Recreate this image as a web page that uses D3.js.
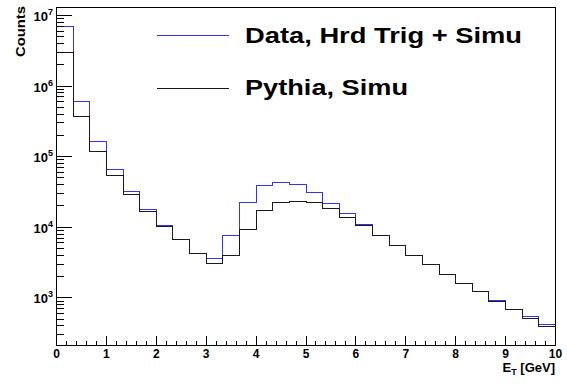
<!DOCTYPE html>
<html><head><meta charset="utf-8">
<script src="https://cdn.jsdelivr.net/npm/d3@7"></script>
<style>html,body{margin:0;padding:0;background:#fff;}svg{display:block;}</style>
</head><body>
<svg id="c" width="567" height="384"></svg>
<script>
// bin edges: 30 bins of width 1/3 GeV from 0 to 10
const binCount = 30;
const xMin = 0, xMax = 10;
const dataHrdTrig = [6.96e6, 6.1e5, 1.65e5, 6.64e4, 3.24e4, 1.8e4, 1.07e4, 6.64e3, 4.28e3, 3.57e3,
  7.7e3, 2.22e4, 3.9e4, 4.34e4, 4.03e4, 3.07e4, 2.19e4, 1.55e4, 1.08e4, 7.55e3,
  5.46e3, 3.97e3, 2.93e3, 2.14e3, 1.6e3, 1.22e3, 925, 676, 538, 415];
const pythiaSimu = [2.95e6, 3.73e5, 1.17e5, 5.4e4, 2.9e4, 1.67e4, 1.01e4, 6.64e3, 4.25e3, 3.06e3,
  3.94e3, 9.4e3, 1.73e4, 2.22e4, 2.33e4, 2.22e4, 1.82e4, 1.39e4, 1.05e4, 7.55e3,
  5.46e3, 3.97e3, 2.93e3, 2.14e3, 1.6e3, 1.22e3, 887, 676, 505, 392];
const seriesNames = ["Data, Hrd Trig + Simu", "Pythia, Simu"];
const seriesColors = ["#3232f2", "#1a1a1a"];
const xTickValues = [0,1,2,3,4,5,6,7,8,9,10];
const yTickExponents = [3,4,5,6,7];
const xTitle = "E";
const xTitleSub = "T";
const xTitleRest = " [GeV]";
const yTitle = "Counts";

const svg = d3.select("#c");
const L = 56.5, R = 555.5, T = 7.5, B = 345.5;
const x = d3.scaleLinear().domain([xMin, xMax]).range([L, R]);
const y = d3.scaleLog().domain([211, 1.294e7]).range([B, T]);
const font = "'Liberation Sans', Arial, Helvetica, sans-serif";

const binW = (xMax - xMin) / binCount;
function stepPoints(vals) {
  const pts = vals.map((v, i) => [xMin + i * binW, v]);
  pts.push([xMax, vals[vals.length - 1]]);
  return pts;
}
const line = d3.line().x(d => Math.round(x(d[0]) - 0.5) + 0.5).y(d => Math.round(y(d[1]) - 0.5) + 0.5).curve(d3.curveStepAfter);

[dataHrdTrig, pythiaSimu].forEach((vals, k) => {
  svg.append("path").attr("d", line(stepPoints(vals)))
    .attr("fill", "none").attr("stroke", seriesColors[k]).attr("stroke-width", 1)
    .attr("shape-rendering", "crispEdges");
});

// frame
svg.append("rect").attr("x", L).attr("y", T).attr("width", R - L).attr("height", B - T)
  .attr("fill", "none").attr("stroke", "#000").attr("stroke-width", 1).attr("shape-rendering", "crispEdges");

// x ticks
const gx = svg.append("g").attr("shape-rendering", "crispEdges");
const xMinor = d3.range(0, 50).map(i => i * 0.2).filter(v => Math.abs(v - Math.round(v)) > 1e-6);
xMinor.forEach(v => {
  const px = Math.round(x(v) - 0.5) + 0.5;
  gx.append("line").attr("x1", px).attr("x2", px).attr("y1", B).attr("y2", B - 5).attr("stroke", "#000");
});
xTickValues.forEach(v => {
  const px = Math.round(x(v) - 0.5) + 0.5;
  gx.append("line").attr("x1", px).attr("x2", px).attr("y1", B).attr("y2", B - 10).attr("stroke", "#000");
  svg.append("text").attr("x", x(v)).attr("y", 358).attr("text-anchor", "middle")
    .attr("font-family", font).attr("font-weight", "bold").attr("font-size", 12).text(v);
});

// y ticks
const gy = svg.append("g").attr("shape-rendering", "crispEdges");
const [ylo, yhi] = y.domain();
for (let e = 2; e <= 7; e++) {
  for (let k = 1; k <= 9; k++) {
    const v = k * Math.pow(10, e);
    if (v < ylo || v > yhi) continue;
    const py = Math.round(y(v) - 0.5) + 0.5;
    gy.append("line").attr("x1", L).attr("x2", L + (k === 1 ? 15 : 7.5)).attr("y1", py).attr("y2", py).attr("stroke", "#000");
  }
}
yTickExponents.forEach(e => {
  const t = svg.append("text").attr("x", 53).attr("y", y(Math.pow(10, e)) + 5.5).attr("text-anchor", "end")
    .attr("font-family", font).attr("font-weight", "bold").attr("font-size", 13);
  t.append("tspan").text("10");
  t.append("tspan").attr("font-size", 9).attr("dy", -6).text(e);
});

// axis titles
const xt = svg.append("text").attr("x", 555).attr("y", 372).attr("text-anchor", "end")
  .attr("font-family", font).attr("font-weight", "bold").attr("font-size", 13);
xt.append("tspan").text(xTitle);
xt.append("tspan").attr("font-size", 9).attr("dy", 3).text(xTitleSub);
xt.append("tspan").attr("dy", -3).text(xTitleRest);

svg.append("text").attr("transform", "translate(25,57) rotate(-90)")
  .attr("font-family", font).attr("font-weight", "bold").attr("font-size", 12)
  .attr("textLength", 51).attr("lengthAdjust", "spacingAndGlyphs").text(yTitle);

// legend
const legY = [35.5, 88.5];
const legBase = [43, 95];
const legLen = [277, 163];
seriesNames.forEach((n, k) => {
  svg.append("line").attr("x1", 157).attr("x2", 229).attr("y1", legY[k]).attr("y2", legY[k])
    .attr("stroke", seriesColors[k]).attr("shape-rendering", "crispEdges");
  svg.append("text").attr("x", 245).attr("y", legBase[k])
    .attr("font-family", font).attr("font-weight", "bold").attr("font-size", 22.5)
    .attr("textLength", legLen[k]).attr("lengthAdjust", "spacingAndGlyphs").text(n);
});
</script>
</body></html>
